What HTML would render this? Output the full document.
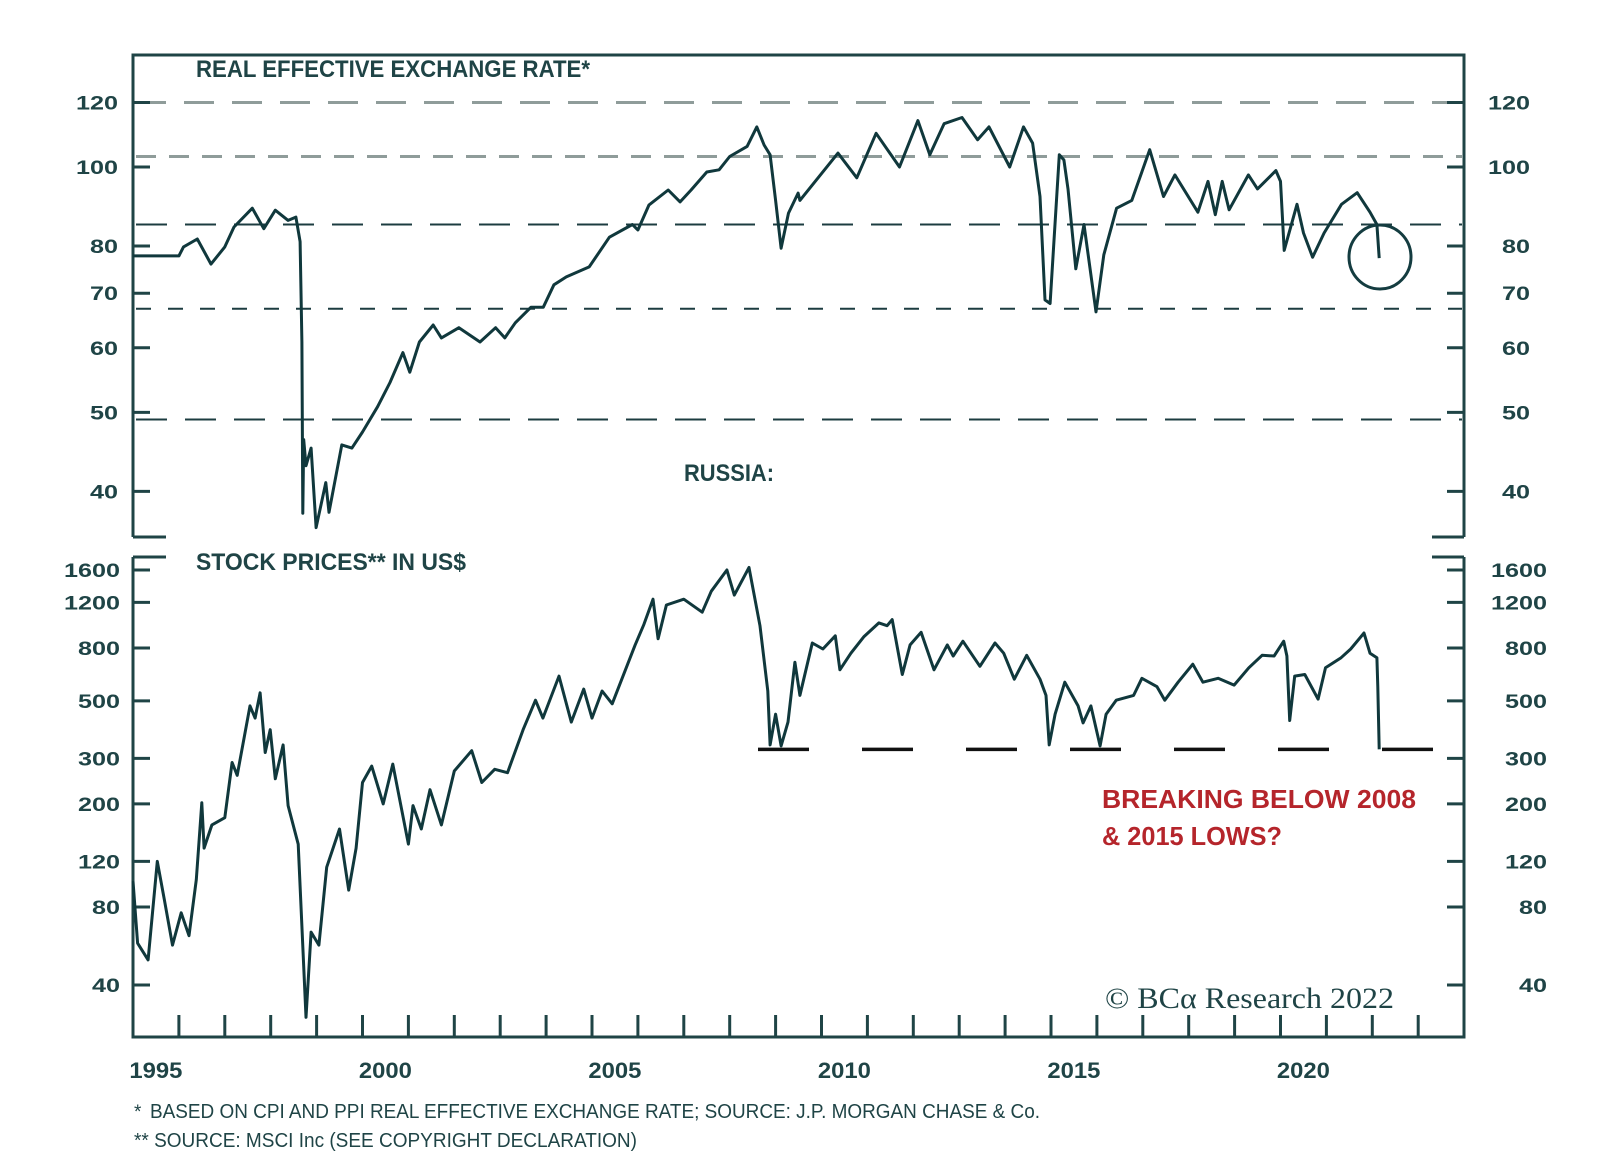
<!DOCTYPE html>
<html><head><meta charset="utf-8"><title>Russia REER and Stock Prices</title>
<style>
html,body{margin:0;padding:0;background:#fff;}
svg{display:block;font-family:"Liberation Sans",sans-serif;}
</style></head>
<body>
<svg id="chart" width="1600" height="1172" viewBox="0 0 1600 1172" xmlns="http://www.w3.org/2000/svg">
<rect x="0" y="0" width="1600" height="1172" fill="#ffffff"/>
<g id="top-grid"></g>
<g id="bottom-ref"></g>
<g id="frames" stroke="#1f4446" stroke-width="3" fill="none">
  <path d="M133,537 V55 H1464 V537"/>
  <path d="M133,537 H166 M1432,537 H1464"/>
  <path d="M133,557 V1037 H1464 V557"/>
  <path d="M133,557 H166 M1432,557 H1464"/>
</g>
<g id="axes"></g>
<g id="series"></g>
<text x="196" y="77" font-size="24" font-weight="bold" fill="#1f4446" textLength="394" lengthAdjust="spacingAndGlyphs">REAL EFFECTIVE EXCHANGE RATE*</text>
<text x="684" y="481" font-size="24" font-weight="bold" fill="#1f4446" textLength="90" lengthAdjust="spacingAndGlyphs">RUSSIA:</text>
<text x="196" y="570" font-size="24" font-weight="bold" fill="#1f4446" textLength="270" lengthAdjust="spacingAndGlyphs">STOCK PRICES** IN US$</text>
<text x="1102" y="808" font-size="26" font-weight="bold" fill="#b5252b" textLength="314" lengthAdjust="spacingAndGlyphs">BREAKING BELOW 2008</text>
<text x="1102" y="845" font-size="26" font-weight="bold" fill="#b5252b" textLength="180" lengthAdjust="spacingAndGlyphs">&amp; 2015 LOWS?</text>
<text x="1105" y="1008" font-size="30" font-family="'Liberation Serif',serif" fill="#1f4446" textLength="289" lengthAdjust="spacingAndGlyphs">© BCα Research 2022</text>
<ellipse cx="1380" cy="257" rx="31" ry="32" fill="none" stroke="#143c40" stroke-width="3"/>
<text x="134" y="1118" font-size="19" fill="#1f4446">*</text>
<text x="150" y="1118" font-size="20" fill="#1f4446" textLength="890" lengthAdjust="spacingAndGlyphs">BASED ON CPI AND PPI REAL EFFECTIVE EXCHANGE RATE; SOURCE: J.P. MORGAN CHASE &amp; Co.</text>
<text x="134" y="1147" font-size="20" fill="#1f4446" textLength="503" lengthAdjust="spacingAndGlyphs">** SOURCE: MSCI Inc (SEE COPYRIGHT DECLARATION)</text>
</svg>
<script>
// ---- data ----
const reerYears = [1995.0,1996.0,1996.1,1996.4,1996.7,1997.0,1997.2,1997.6,1997.85,1998.1,1998.38,1998.55,1998.64,1998.68,1998.7,1998.72,1998.77,1998.88,1998.99,1999.2,1999.27,1999.55,1999.77,2000.0,2000.33,2000.6,2000.88,2001.03,2001.24,2001.54,2001.72,2002.1,2002.56,2002.9,2003.1,2003.33,2003.67,2003.94,2004.17,2004.44,2004.94,2005.38,2005.88,2006.0,2006.24,2006.66,2006.92,2007.16,2007.5,2007.77,2008.0,2008.38,2008.59,2008.75,2008.88,2009.0,2009.12,2009.28,2009.49,2009.53,2010.36,2010.77,2011.19,2011.7,2012.1,2012.36,2012.67,2013.06,2013.4,2013.65,2014.1,2014.4,2014.6,2014.76,2014.87,2014.98,2015.18,2015.28,2015.37,2015.54,2015.72,2015.98,2016.15,2016.43,2016.76,2017.15,2017.45,2017.7,2018.2,2018.42,2018.58,2018.73,2018.88,2019.3,2019.5,2019.9,2020.0,2020.08,2020.36,2020.5,2020.7,2020.95,2021.33,2021.67,2021.95,2022.1,2022.15];
const reerValues = [77.8,77.8,79.8,81.6,76,79.8,84.4,89,84,88.5,86,86.8,81,61,37.6,46.3,43,45.2,36.1,41,37.7,45.6,45.2,47.3,50.8,54.4,59.2,56,61,64,61.7,63.5,61,63.5,61.7,64.4,67.3,67.3,71.7,73.3,75.4,82,85,83.7,89.8,93.7,90.6,93.7,98.6,99.2,103,106,112,106.4,103.5,91,79.5,87.8,92.9,91,104,97,110,100,114,103.5,113,115,108,112,100,112,107,92,68.7,68,103.5,102,94,75,85,66.4,78,89,91,105,92,97.8,88,96,87.4,96,88.6,97.8,94,99,96,79,90,83,77.5,83,90,93,88,85,77.3];
const stockYears = [1995.0,1995.1,1995.33,1995.53,1995.68,1995.86,1996.05,1996.22,1996.38,1996.5,1996.55,1996.72,1997.0,1997.16,1997.27,1997.55,1997.66,1997.77,1997.88,1997.99,1998.1,1998.27,1998.38,1998.6,1998.77,1998.88,1999.05,1999.22,1999.5,1999.7,1999.86,2000.0,2000.2,2000.45,2000.66,2001.0,2001.1,2001.28,2001.47,2001.72,2002.0,2002.38,2002.6,2002.88,2003.16,2003.5,2003.77,2003.93,2004.28,2004.55,2004.82,2005.0,2005.22,2005.44,2005.94,2006.13,2006.33,2006.44,2006.62,2007.0,2007.4,2007.6,2007.94,2008.1,2008.42,2008.66,2008.83,2008.88,2009.0,2009.12,2009.27,2009.42,2009.53,2009.8,2010.03,2010.3,2010.4,2010.64,2010.92,2011.25,2011.43,2011.54,2011.76,2011.93,2012.17,2012.45,2012.74,2012.87,2013.08,2013.45,2013.78,2013.97,2014.2,2014.47,2014.76,2014.89,2014.96,2015.09,2015.3,2015.59,2015.7,2015.87,2016.07,2016.2,2016.42,2016.8,2016.98,2017.31,2017.48,2017.77,2018.09,2018.31,2018.64,2018.99,2019.31,2019.6,2019.86,2020.07,2020.14,2020.2,2020.31,2020.53,2020.82,2020.98,2021.32,2021.53,2021.82,2021.95,2022.1,2022.12,2022.15];
const stockValues = [100.7,58,50,120,86,57,76,62,102,202,135,166,177,289,258,478,429,537,316,387,250,338,197,140,30,64,57,114,160,93,135,242,280,200,285,140,197,160,227,166,268,321,242,272,264,387,503,429,623,414,555,429,546,487,821,987,1235,868,1172,1235,1100,1325,1600,1280,1636,974,546,338,444,335,414,705,525,836,793,892,659,764,883,1000,975,1030,632,822,920,659,822,745,850,680,836,764,606,750,606,525,338,444,590,478,411,478,335,444,503,525,611,567,503,590,693,590,611,575,671,750,745,850,745,420,623,632,508,671,734,793,914,764,734,567,325];
const reerTicks = [120,100,80,70,60,50,40];
const reerGridValues = [120,103,85,67,49];
const stockTicks = [1600,1200,800,500,300,200,120,80,40];
const stockLowLevel = [325];
const yearLabels = [1995,2000,2005,2010,2015,2020];
const yearTicks = [1996,1997,1998,1999,2000,2001,2002,2003,2004,2005,2006,2007,2008,2009,2010,2011,2012,2013,2014,2015,2016,2017,2018,2019,2020,2021,2022,2023];

// ---- axis functions ----
const NS = 'http://www.w3.org/2000/svg';
const xOf = yr => 133 + 45.9 * (yr - 1995);
const yTop = v => 167 - 815 * Math.log10(v / 100);
const yBot = v => 648 - 259 * Math.log10(v / 800);
function mk(tag, attrs, parent){ const e=document.createElementNS(NS,tag); for(const k in attrs) e.setAttribute(k,attrs[k]); parent.appendChild(e); return e; }
const ink = '#1f4446';
const axes = document.getElementById('axes');
const series = document.getElementById('series');

// gridlines (top)
const gridStyles = [['#8f9c9a','30 18',3],['#8f9c9a','20 13',3],['#1c3c40','31 18',2],['#1c3c40','15 17',2],['#1c3c40','31 18',2]];
const gridG = document.getElementById('top-grid');
reerGridValues.forEach((v,i)=>{
  const s = gridStyles[i % gridStyles.length];
  const l = mk('line',{x1:136,x2:1462,y1:yTop(v),y2:yTop(v),stroke:s[0],'stroke-dasharray':s[1],'stroke-width':s[2]},gridG);
  
  
});

// reference line (bottom)
const refG = document.getElementById('bottom-ref');
stockLowLevel.forEach(v=>{
  const l = mk('line',{x1:758,x2:1433,y1:yBot(v),y2:yBot(v),stroke:'#111',
    'stroke-dasharray':'51 53','stroke-width':3.5},refG);
  
  
});

// y ticks
function yAxis(ticks, yf, lx, rx, prefix){
  ticks.forEach(v=>{
    const y = yf(v);
    const t1 = mk('line',{x1:133,x2:150,y1:y,y2:y,stroke:ink,'stroke-width':3},axes);
    
    
    const t2 = mk('line',{x1:1447,x2:1464,y1:y,y2:y,stroke:ink,'stroke-width':3},axes);
    
    
    const s = String(v); const w = s.length*14;
    [lx, rx].forEach((ax,j)=>{
      const t = mk('text',{x:ax,y:y+7,'text-anchor':'end','font-size':19,'font-weight':'bold',fill:ink,
        textLength:w,lengthAdjust:'spacingAndGlyphs'},axes);
      t.textContent = s;
      
      
    });
  });
}
yAxis(reerTicks, yTop, 118, 1530, 'reer-axis');
yAxis(stockTicks, yBot, 120, 1547, 'stock-axis');

// x ticks
yearTicks.forEach(yr=>{
  const x = xOf(yr);
  const t = mk('line',{x1:x,x2:x,y1:1037,y2:1015,stroke:ink,'stroke-width':3},axes);
  
  
});
yearLabels.forEach(yr=>{
  const t = mk('text',{x:xOf(yr+0.5),y:1078,'text-anchor':'middle','font-size':22,'font-weight':'bold',fill:ink,
    textLength:53,lengthAdjust:'spacingAndGlyphs'},axes);
  t.textContent = yr;
  
  
});

// series
function line(xs, vs, yf, name){
  const d = xs.map((yr,i)=>(i?'L':'M')+xOf(yr).toFixed(1)+','+yf(vs[i]).toFixed(1)).join(' ');
  const p = mk('path',{d:d,fill:'none',stroke:'#10383c','stroke-width':3,'stroke-linejoin':'round'},series);
  
  
}
line(reerYears, reerValues, yTop, 'reer-line');
line(stockYears, stockValues, yBot, 'stock-price-line');
</script>
</body></html>
